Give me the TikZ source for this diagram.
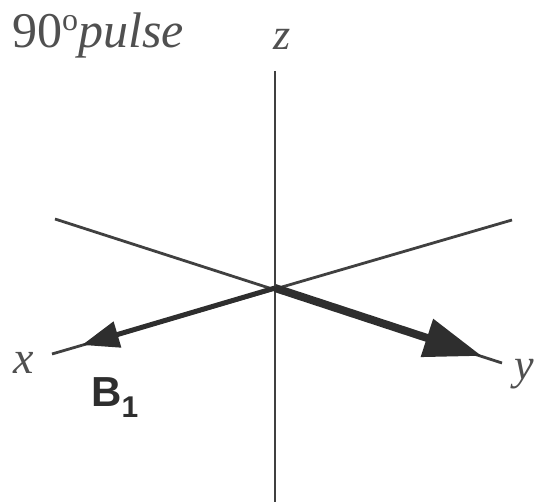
\documentclass[tikz,border=0pt]{standalone}
\usepackage{fontspec}
\setmainfont{Liberation Serif}
\newfontfamily\labelsans{Liberation Sans}
\usetikzlibrary{arrows.meta}
\definecolor{axisgray}{HTML}{404040}
\definecolor{vecgray}{HTML}{2E2E2E}
\definecolor{textgray}{HTML}{505050}
\begin{document}
\begin{tikzpicture}[x=1pt,y=-1pt,
  axis/.style={draw=axisgray,line width=2.8pt},
  vec/.style={draw=vecgray,fill=vecgray},
  lab/.style={inner sep=0pt,text=textgray,font=\fontsize{44}{44}\selectfont\itshape}]
\useasboundingbox (0,0) rectangle (541,502);
\coordinate (O) at (275,288);
\coordinate (ztop) at (275,71);
\coordinate (zbot) at (275,502);
\coordinate (xend) at (52,354);
\coordinate (xback) at (512,220);
\coordinate (yend) at (502,363);
\coordinate (yback) at (55,219);
\coordinate (xtip) at (82,345);
\coordinate (ytip) at (482,356);
% axes
\draw[axis] (ztop) -- (zbot);
\draw[axis] (xend) -- (xback);
\draw[axis] (yback) -- (yend);
% vectors
\draw[vec,line width=5pt,-{Triangle[length=37pt,width=26pt]}] (O) -- (xtip);
\draw[vec,line width=8pt,-{Triangle[length=58pt,width=38pt]}] (O) -- (ytip);
% labels
\node[lab,anchor=base west,font=\fontsize{50}{52}\selectfont] (title) at (12,48)
  {90\raisebox{17pt}{\fontsize{32}{32}\selectfont o}\textit{pulse}};
\node[lab,anchor=base] (zlab) at (282,50) {z};
\node[lab,anchor=base west,font=\fontsize{46}{46}\selectfont\itshape] (xlab) at (13,374) {x};
\node[lab,anchor=base west] (ylab) at (514,380) {y};
\node[inner sep=0pt,anchor=base west,text=vecgray] (B1) at (91,407)
  {\labelsans\bfseries\fontsize{42}{42}\selectfont B\raisebox{-10pt}{\fontsize{30}{30}\selectfont 1}};
\end{tikzpicture}
\end{document}
